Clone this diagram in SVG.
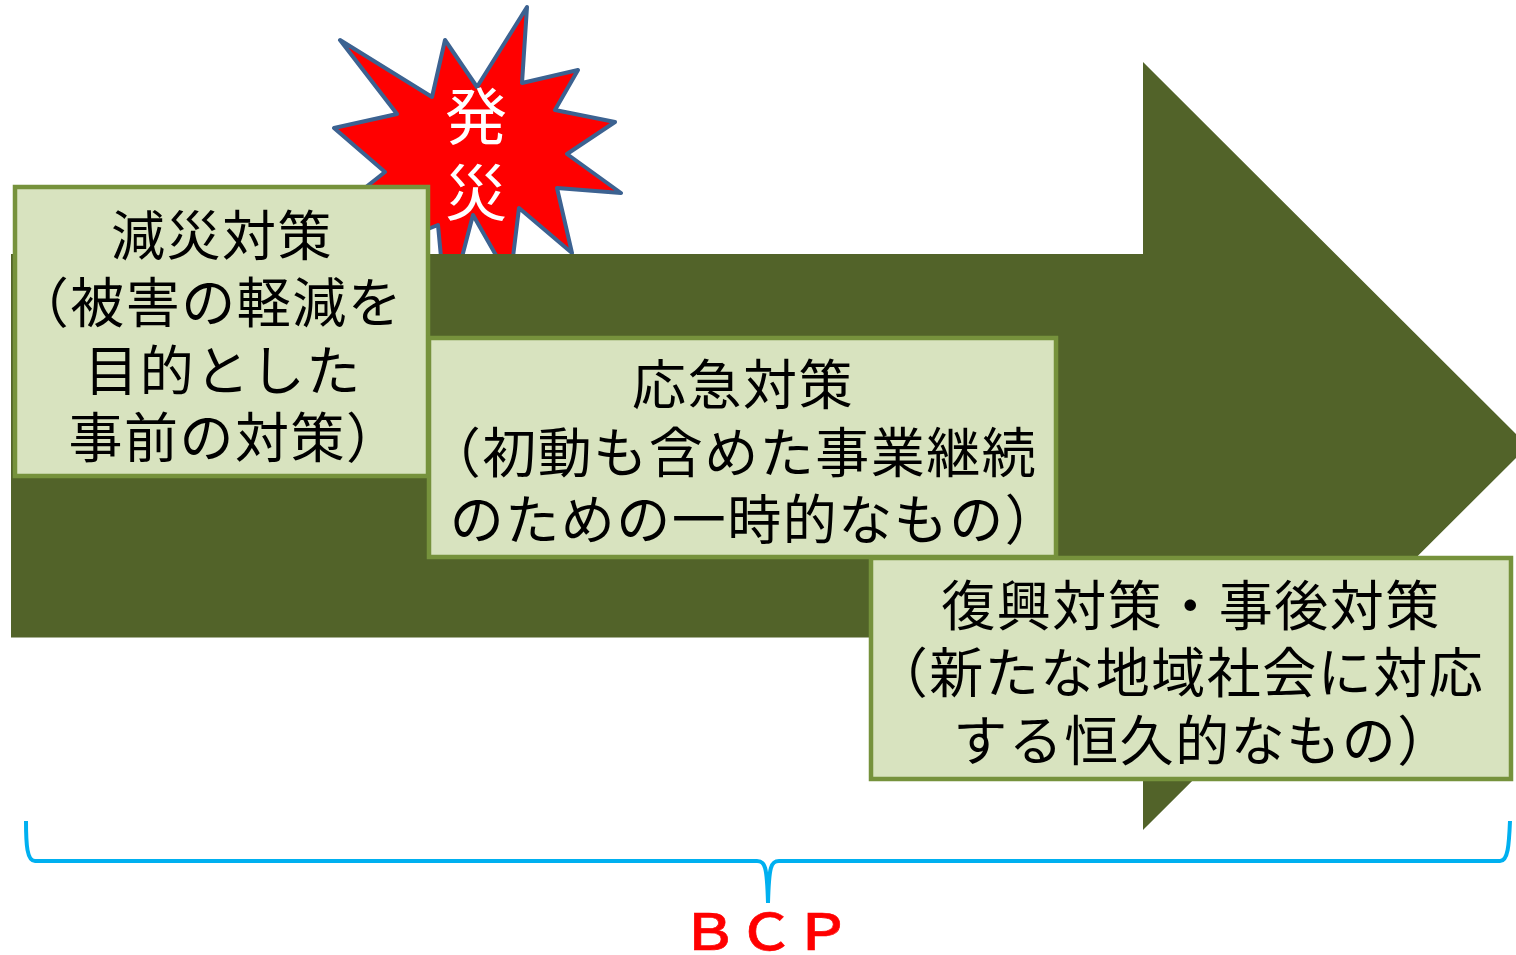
<svg xmlns="http://www.w3.org/2000/svg" width="1516" height="955" viewBox="0 0 1516 955">
<style>
.box{fill:#d8e3bf;stroke:#76923c;stroke-width:4.5}
text{font-family:"Noto Sans CJK JP","Liberation Sans",sans-serif;font-size:54px;letter-spacing:1.5px;fill:#000;text-anchor:middle}
.w{fill:#fff;font-size:62px;letter-spacing:0}
.bcp{fill:#ff0000;font-size:50px;font-weight:500;letter-spacing:0;stroke:#ff0000;stroke-width:0.6}
</style>
<rect width="1516" height="955" fill="#fff"/>
<g id="burst">
<path d="M340,40 L432,97 L445,40 L477,87 L527,7 L522,83 L578,70 L555,110 L615,122 L567,154 L621,193 L557,188 L572,253 L519,208 L513,257 L497,257 L473,215 L462,257 L441,257 L438,225 L400,240 L366,187 L385,172 L334,128 L397,114 Z" fill="#ff0000" stroke="#3c6291" stroke-width="4" stroke-linejoin="round"/>
<text class="w" x="476" y="140">発</text>
<text class="w" x="476" y="216">災</text>
</g>
<g id="arrow">
<path d="M11,254 H1143 V62 L1528,446 L1143,830 V637.500 H11 Z" fill="#526329"/>
</g>
<g id="node1">
<rect class="box" x="15" y="187" width="413" height="289"/>
<text x="222" y="256">減災対策</text>
<text x="209" y="323">（被害の軽減を</text>
<text x="223" y="391">目的とした</text>
<text x="235" y="458">事前の対策）</text>
</g>
<g id="node2">
<rect class="box" x="429" y="338" width="627" height="219"/>
<text x="743" y="405">応急対策</text>
<text x="732" y="473">（初動も含めた事業継続</text>
<text x="755" y="540">のための一時的なもの）</text>
</g>
<g id="node3">
<rect class="box" x="871" y="558" width="640" height="221"/>
<text x="1191" y="626">復興対策・事後対策</text>
<text x="1179" y="693">（新たな地域社会に対応</text>
<text x="1203" y="761">する恒久的なもの）</text>
</g>
<g id="connectors">
<path d="M26,821 C26,845 27,861 35,861 H757 C765,861 767,866 768,903 C769,866 771,861 779,861 H1500 C1508,861 1509,845 1510,821" fill="none" stroke="#00b0f0" stroke-width="4"/>
</g>
<text id="bcp" class="bcp" transform="translate(766,950) scale(1.13,1)">ＢＣＰ</text>
</svg>
